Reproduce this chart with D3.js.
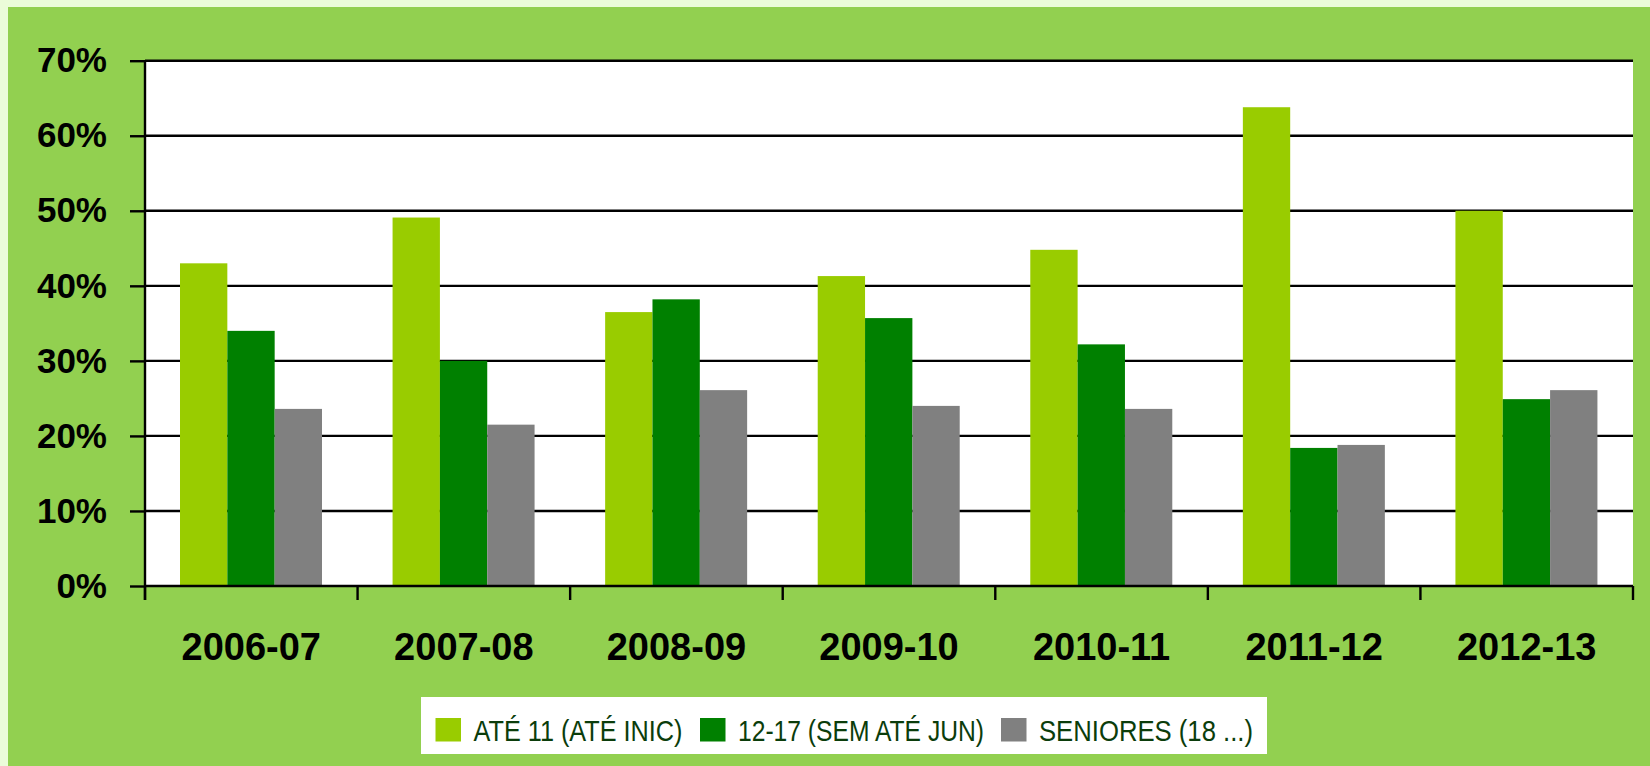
<!DOCTYPE html>
<html>
<head>
<meta charset="utf-8">
<script src="https://cdn.jsdelivr.net/npm/d3@7"></script>
<style>
  body { margin: 0; background: #ebfcd9; }
  svg { display: block; }
</style>
</head>
<body>
<div id="chart"></div>
<script>
// seasons and the three age groups
const seasons = ["2006-07", "2007-08", "2008-09", "2009-10", "2010-11", "2011-12", "2012-13"];
const seriesNames = ["ATÉ 11 (ATÉ INIC)", "12-17 (SEM ATÉ JUN)", "SENIORES (18 ...)"];
const ate11 = [0.430, 0.491, 0.365, 0.413, 0.448, 0.638, 0.500];
const s12to17 = [0.340, 0.300, 0.382, 0.357, 0.322, 0.184, 0.249];
const seniores = [0.236, 0.215, 0.261, 0.240, 0.236, 0.188, 0.261];
const yTicks = [0, 0.1, 0.2, 0.3, 0.4, 0.5, 0.6, 0.7];

const colors = ["#99cc00", "#008000", "#808080"];
const allSeries = [ate11, s12to17, seniores];

const W = 1650, H = 766;
const plot = {left: 145, right: 1633, top: 60.7, bottom: 586};

let svg = d3.select("#chart").append("svg")
    .attr("width", W)
    .attr("height", H);

// green panel
svg.append("rect")
    .attr("x", 8).attr("y", 7)
    .attr("width", W - 8).attr("height", H - 7)
    .attr("fill", "#92d050");

// white plot area
svg.append("rect")
    .attr("x", plot.left).attr("y", plot.top)
    .attr("width", plot.right - plot.left).attr("height", plot.bottom - plot.top)
    .attr("fill", "#ffffff");

let y = d3.scaleLinear().domain([0, 0.7]).range([plot.bottom, plot.top]);

let x0 = d3.scaleBand().domain(seasons).range([plot.left, plot.right]).padding(0);
let x1 = d3.scaleBand().domain(d3.range(3)).range([35, 177]).padding(0);

// gridlines
svg.append("g")
    .selectAll("line")
    .data(yTicks.filter(d => d > 0))
    .enter()
    .append("line")
    .attr("x1", plot.left).attr("x2", plot.right)
    .attr("y1", d => y(d)).attr("y2", d => y(d))
    .attr("stroke", "#000").attr("stroke-width", 2.4);

// bars
let groups = svg.append("g")
    .selectAll("g")
    .data(seasons)
    .enter()
    .append("g")
    .attr("transform", d => `translate(${x0(d)},0)`);

groups.selectAll("rect")
    .data((d, i) => allSeries.map((s, k) => ({k: k, v: s[i]})))
    .enter()
    .append("rect")
    .attr("x", d => x1(d.k))
    .attr("width", x1.bandwidth())
    .attr("y", d => y(d.v))
    .attr("height", d => y(0) - y(d.v))
    .attr("fill", d => colors[d.k]);

// y axis
let yAxis = svg.append("g")
    .attr("transform", `translate(${plot.left},0)`)
    .call(d3.axisLeft(y).tickValues(yTicks).tickFormat(d3.format(".0%"))
        .tickSize(15).tickPadding(23).tickSizeOuter(0));
yAxis.select(".domain").remove();
yAxis.selectAll(".tick line").attr("stroke", "#000").attr("stroke-width", 2.4);
yAxis.selectAll("text")
    .attr("fill", "#000")
    .style("font-family", "'Liberation Sans', Arial, sans-serif")
    .style("font-weight", "bold")
    .style("font-size", "35px");

svg.append("line")
    .attr("x1", plot.left).attr("x2", plot.left)
    .attr("y1", plot.top).attr("y2", plot.bottom + 14)
    .attr("stroke", "#000").attr("stroke-width", 2.4);

// x axis
svg.append("line")
    .attr("x1", plot.left).attr("x2", plot.right)
    .attr("y1", plot.bottom).attr("y2", plot.bottom)
    .attr("stroke", "#000").attr("stroke-width", 2.4);

let edges = seasons.map(d => x0(d)).concat([plot.right]);
svg.append("g")
    .selectAll("line")
    .data(edges)
    .enter()
    .append("line")
    .attr("x1", d => d).attr("x2", d => d)
    .attr("y1", plot.bottom).attr("y2", plot.bottom + 14)
    .attr("stroke", "#000").attr("stroke-width", 2.4);

let xAxis = svg.append("g")
    .attr("transform", `translate(0,${plot.bottom})`)
    .call(d3.axisBottom(x0).tickSize(0).tickPadding(0));
xAxis.select(".domain").remove();
xAxis.selectAll("text")
    .attr("y", 74)
    .attr("dy", 0)
    .attr("fill", "#000")
    .style("font-family", "'Liberation Sans', Arial, sans-serif")
    .style("font-weight", "bold")
    .style("font-size", "38px");

// legend
let legend = svg.append("g");
legend.append("rect")
    .attr("x", 421).attr("y", 697)
    .attr("width", 846).attr("height", 57)
    .attr("fill", "#ffffff");

const legendX = [435.5, 700, 1001];
const legendW = [209, 246, 214];

let items = legend.selectAll(".item")
    .data(seriesNames)
    .enter()
    .append("g")
    .attr("class", "item")
    .attr("transform", (d, i) => `translate(${legendX[i]},0)`);

items.append("rect")
    .attr("x", 0).attr("y", 718)
    .attr("width", 25.5).attr("height", 23.5)
    .attr("fill", (d, i) => colors[i]);

items.append("text")
    .attr("x", 38).attr("y", 741)
    .attr("textLength", (d, i) => legendW[i])
    .attr("lengthAdjust", "spacingAndGlyphs")
    .attr("fill", "#0b3d0b")
    .style("font-family", "'Liberation Sans', Arial, sans-serif")
    .style("font-size", "30px")
    .text(d => d);
</script>
</body>
</html>
